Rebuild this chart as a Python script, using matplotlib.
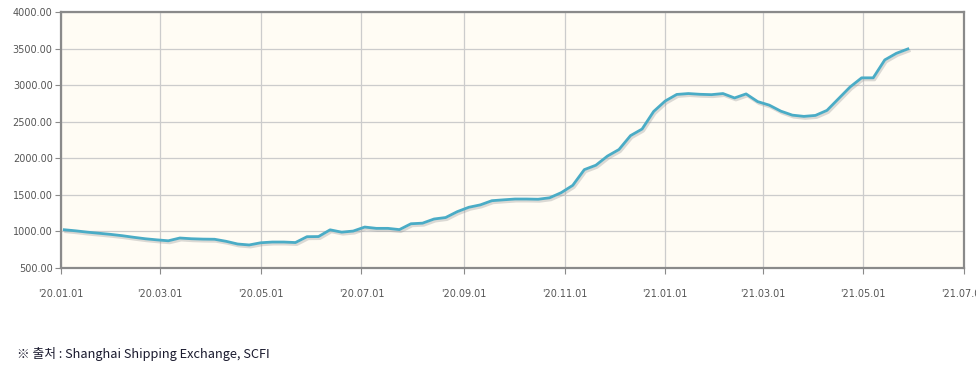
import numpy as np
import pandas as pd
import matplotlib
matplotlib.use('Agg')
import matplotlib.pyplot as plt
import matplotlib.dates as mdates
import matplotlib.patheffects as pe

# weekly SCFI (fridays)
dates = pd.date_range('2020-01-03', '2021-05-28', freq='W-FRI')
scfi = [1023, 1008, 990, 975, 960, 942, 920, 900, 885, 872,
        910, 900, 895, 893, 865, 828, 815, 845, 855, 855,
        848, 928, 930, 1022, 990, 1005, 1060, 1042, 1042, 1025,
        1105, 1113, 1170, 1190, 1270, 1330, 1363, 1420, 1432, 1443,
        1443, 1440, 1460, 1530, 1630, 1845, 1905, 2030, 2120, 2310,
        2400, 2640, 2783, 2873, 2885, 2875, 2870, 2885, 2825, 2880,
        2775, 2727, 2645, 2590, 2573, 2586, 2655, 2815, 2975, 3100,
        3100, 3345, 3435, 3495]

xticks = pd.date_range('2020-01-01', '2021-07-01', freq='2MS')
yticks = [500, 1000, 1500, 2000, 2500, 3000, 3500, 4000]
source = '※ 출처 : Shanghai Shipping Exchange, SCFI'

fig = plt.figure(figsize=(9.76, 3.68), dpi=100)
ax = fig.add_axes([61/976, 100/368, 903/976, 256/368])
ax.set_facecolor('#fffcf4')

ax.plot(dates, scfi, color='#4aacc6', lw=2.0, solid_joinstyle='round',
        path_effects=[pe.SimpleLineShadow(offset=(1.0, -1.5), shadow_color='#999999', alpha=0.35),
                      pe.Normal()], zorder=3)

ax.set_xlim(pd.Timestamp('2020-01-01'), pd.Timestamp('2021-07-01'))
ax.set_ylim(500, 4000)
ax.set_xticks(xticks)
ax.set_xticklabels([d.strftime("'%y.%m.%d") for d in xticks])
ax.set_yticks(yticks)
ax.set_yticklabels(['%.2f' % v for v in yticks])

ax.grid(True, color='#cccccc', lw=0.9)
ax.set_axisbelow(True)
for s in ax.spines.values():
    s.set_color('#8a8a8a')
    s.set_linewidth(1.6)

ax.tick_params(axis='y', length=4, width=0.8, color='#8a8a8a', pad=2,
               labelsize=7, labelcolor='#555555')
ax.tick_params(axis='x', length=4, width=0.8, color='#8a8a8a', pad=11,
               labelsize=7, labelcolor='#555555')

fig.text(17/976, 1 - 354/368, source, fontsize=9.2, color='#1a1a2e',
         family=['Noto Sans CJK KR', 'DejaVu Sans'], va='center', ha='left')

fig.savefig('out.png', dpi=100)
